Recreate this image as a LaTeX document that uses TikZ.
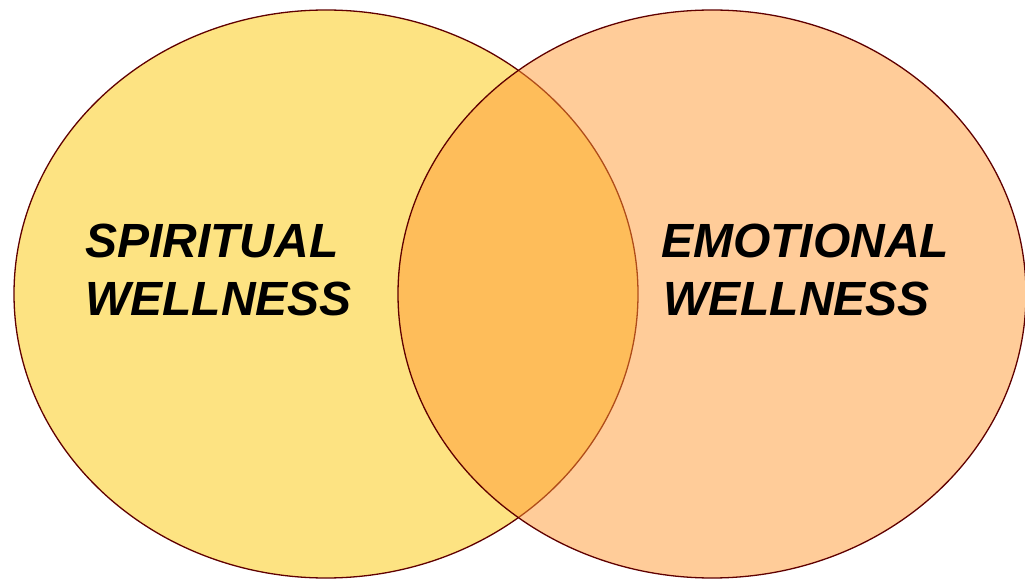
\documentclass[tikz,border=0pt]{standalone}
\usepackage{fontspec}
\setmainfont{Liberation Sans}
\usetikzlibrary{positioning}
\definecolor{rimred}{RGB}{96,0,0}
\definecolor{spiritfill}{RGB}{253,227,130}
\definecolor{emofill}{RGB}{255,153,51}

\begin{document}
\begin{tikzpicture}[x=1pt, y=1pt,
    circ/.style={draw=rimred, line width=1.3pt},
    wellword/.style={anchor=base west, inner sep=0pt,
        font=\fontsize{48}{58}\selectfont\bfseries\itshape}]
                \useasboundingbox (0, 0) rectangle (1025, 579);

                \draw [circ, fill=spiritfill] (326, 285) ellipse [x radius=312, y radius=284];
                \draw [circ, fill=emofill, fill opacity=0.5] (712, 285) ellipse [x radius=314, y radius=284];

                \node [wellword] (spiritA) at (85, 321) {SPIRITUAL};
                \node [wellword] (spiritB) at (85, 263) {WELLNESS};
                \node [wellword] (emoA) at (661, 321) {EMOTIONAL};
                \node [wellword] (emoB) at (663, 263) {WELLNESS};
            \end{tikzpicture}
\end{document}
